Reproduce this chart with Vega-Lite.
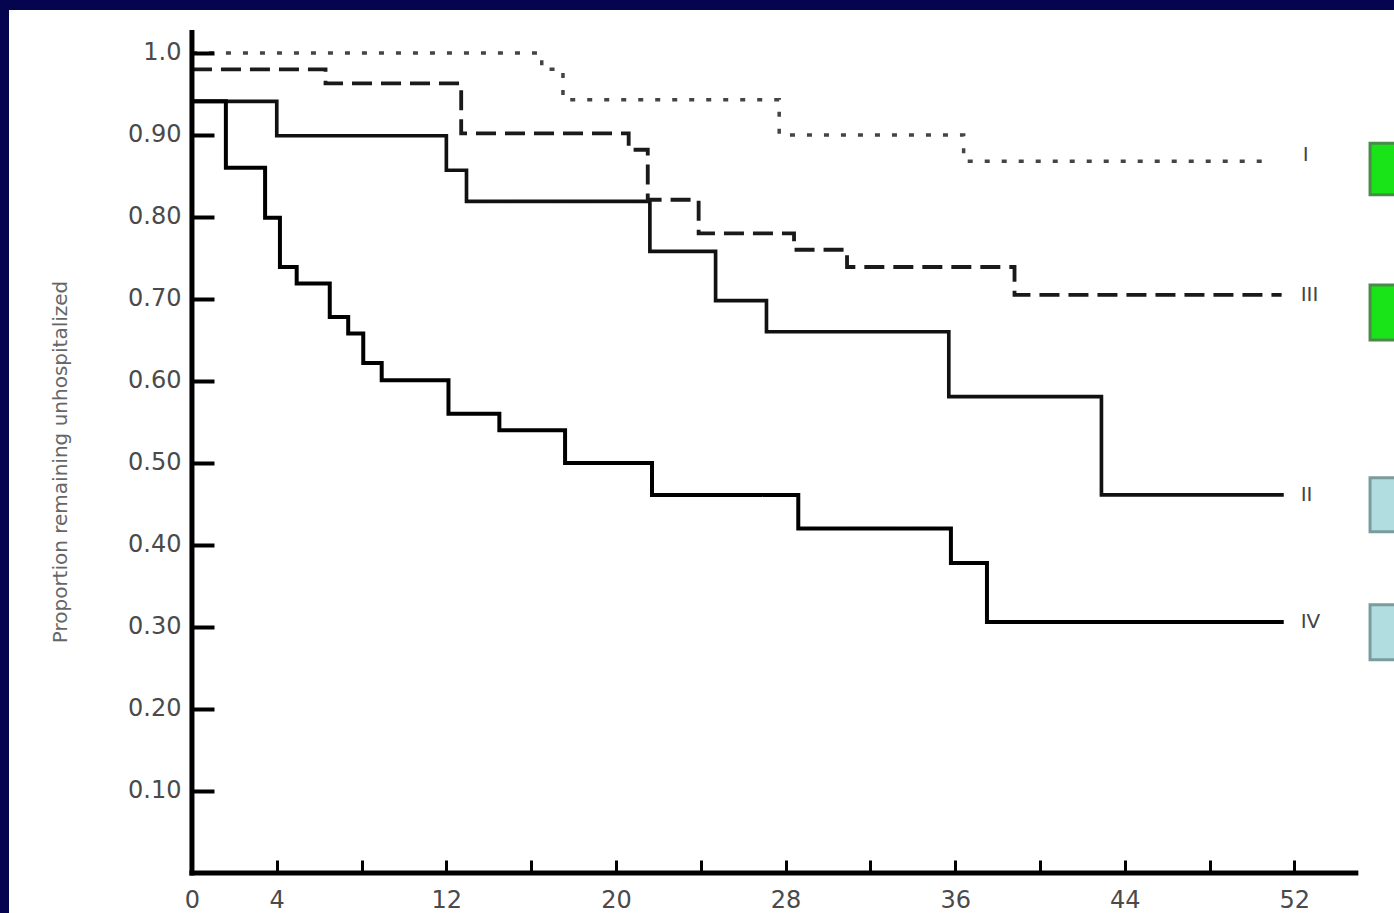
{
  "$schema": "https://vega.github.io/schema/vega-lite/v6.json",
  "width": 1385,
  "height": 903,
  "autosize": {"type": "none"},
  "padding": {"left": 9, "top": 10, "right": 0, "bottom": 0},
  "background": "#05054f",
  "config": {
    "view": {"fill": "white", "stroke": null},
    "font": "DejaVu Sans"
  },
  "datasets": {
    "curves": [
      {"group": "I", "week": 0, "p": 1.0},
      {"group": "I", "week": 16.5, "p": 0.98},
      {"group": "I", "week": 17.5, "p": 0.943},
      {"group": "I", "week": 27.7, "p": 0.9},
      {"group": "I", "week": 36.4, "p": 0.868},
      {"group": "I", "week": 50.9, "p": 0.868},
      {"group": "II", "week": 0, "p": 0.941},
      {"group": "II", "week": 4.0, "p": 0.899},
      {"group": "II", "week": 12.0, "p": 0.857},
      {"group": "II", "week": 12.95, "p": 0.819},
      {"group": "II", "week": 21.6, "p": 0.758},
      {"group": "II", "week": 24.7, "p": 0.698},
      {"group": "II", "week": 27.1, "p": 0.66},
      {"group": "II", "week": 35.7, "p": 0.581},
      {"group": "II", "week": 42.9, "p": 0.461},
      {"group": "II", "week": 51.5, "p": 0.461},
      {"group": "III", "week": 0, "p": 0.98},
      {"group": "III", "week": 6.3, "p": 0.963},
      {"group": "III", "week": 12.7, "p": 0.902},
      {"group": "III", "week": 20.6, "p": 0.882},
      {"group": "III", "week": 21.5, "p": 0.821},
      {"group": "III", "week": 23.9, "p": 0.78},
      {"group": "III", "week": 28.4, "p": 0.76},
      {"group": "III", "week": 30.9, "p": 0.739},
      {"group": "III", "week": 38.8, "p": 0.705},
      {"group": "III", "week": 51.4, "p": 0.705},
      {"group": "IV", "week": 0, "p": 0.941},
      {"group": "IV", "week": 1.6, "p": 0.86},
      {"group": "IV", "week": 3.45, "p": 0.799},
      {"group": "IV", "week": 4.15, "p": 0.739},
      {"group": "IV", "week": 4.94, "p": 0.719},
      {"group": "IV", "week": 6.5, "p": 0.678},
      {"group": "IV", "week": 7.37, "p": 0.658},
      {"group": "IV", "week": 8.08, "p": 0.622},
      {"group": "IV", "week": 8.95, "p": 0.601},
      {"group": "IV", "week": 12.1, "p": 0.56},
      {"group": "IV", "week": 14.5, "p": 0.54},
      {"group": "IV", "week": 17.6, "p": 0.5},
      {"group": "IV", "week": 21.7, "p": 0.461},
      {"group": "IV", "week": 28.6, "p": 0.42},
      {"group": "IV", "week": 35.8, "p": 0.378},
      {"group": "IV", "week": 37.5, "p": 0.306},
      {"group": "IV", "week": 51.5, "p": 0.306}
    ],
    "labels": [
      {"name": "I", "week": 52.4, "p": 0.875},
      {"name": "III", "week": 52.3, "p": 0.705},
      {"name": "II", "week": 52.3, "p": 0.461},
      {"name": "IV", "week": 52.3, "p": 0.306}
    ],
    "axislines": [
      {"week": 0, "week2": 54.9, "p": 0, "p2": 0},
      {"week": 0, "week2": 0, "p": 0, "p2": 1.025}
    ],
    "greenBoxes": [
      {"week": 55.57, "week2": 56.8, "p": 0.89, "p2": 0.827},
      {"week": 55.57, "week2": 56.8, "p": 0.717, "p2": 0.65}
    ],
    "tealBoxes": [
      {"week": 55.57, "week2": 56.8, "p": 0.482, "p2": 0.416},
      {"week": 55.57, "week2": 56.8, "p": 0.327, "p2": 0.26}
    ]
  },
  "layer": [
    {
      "data": {"name": "curves"},
      "mark": {"type": "line", "interpolate": "step-after", "strokeCap": "butt"},
      "encoding": {
        "x": {
          "field": "week", "type": "quantitative",
          "scale": {"domain": [-8.63, 56.7], "nice": false, "zero": false},
          "axis": {
            "values": [0, 4, 8, 12, 16, 20, 24, 28, 32, 36, 40, 44, 48, 52],
            "labelExpr": "indexof([0, 4, 12, 20, 28, 36, 44, 52], datum.value) >= 0 ? datum.label : ''",
            "offset": -40,
            "domain": false,
            "grid": false,
            "tickSize": -13,
            "tickWidth": 3,
            "tickColor": "black",
            "labelFontSize": 24,
            "labelColor": "#4a4a4a",
            "labelPadding": 28,
            "labelFlush": false,
            "labelOverlap": false,
            "title": null,
            "zindex": 1
          }
        },
        "y": {
          "field": "p", "type": "quantitative",
          "scale": {"domain": [-0.0488, 1.0524], "nice": false, "zero": false},
          "axis": {
            "values": [0.1, 0.2, 0.3, 0.4, 0.5, 0.6, 0.7, 0.8, 0.9, 1.0],
            "labelExpr": "datum.value == 1 ? '1.0' : format(datum.value, '.2f')",
            "offset": -183,
            "domain": false,
            "grid": false,
            "tickSize": -22,
            "tickWidth": 4,
            "tickColor": "black",
            "labelFontSize": 24,
            "labelColor": "#4a4a4a",
            "labelPadding": 33,
            "labelOverlap": false,
            "title": "Proportion remaining unhospitalized",
            "titleFont": "DejaVu Sans",
            "titleFontSize": 20,
            "titleFontWeight": "normal",
            "titleColor": "#666",
            "titlePadding": 57,
            "zindex": 1
          }
        },
        "detail": {"field": "group"},
        "stroke": {
          "field": "group", "type": "nominal",
          "scale": {"domain": ["I", "II", "III", "IV"], "range": ["#444444", "#111111", "#1a1a1a", "#000000"]},
          "legend": null
        },
        "strokeDash": {
          "field": "group", "type": "nominal",
          "scale": {"domain": ["I", "II", "III", "IV"], "range": [[5, 12], [1, 0], [20, 9], [1, 0]]},
          "legend": null
        },
        "strokeWidth": {
          "field": "group", "type": "nominal",
          "scale": {"domain": ["I", "II", "III", "IV"], "range": [3.5, 4, 4, 6]},
          "legend": null
        }
      }
    },
    {
      "data": {"name": "axislines"},
      "mark": {"type": "rule", "strokeWidth": 5, "color": "black", "strokeCap": "square"},
      "encoding": {
        "x": {"field": "week", "type": "quantitative"},
        "x2": {"field": "week2"},
        "y": {"field": "p", "type": "quantitative"},
        "y2": {"field": "p2"}
      }
    },
    {
      "data": {"name": "labels"},
      "mark": {"type": "text", "align": "left", "baseline": "middle", "fontSize": 20, "color": "#444"},
      "encoding": {
        "x": {"field": "week", "type": "quantitative"},
        "y": {"field": "p", "type": "quantitative"},
        "text": {"field": "name"}
      }
    },
    {
      "data": {"name": "greenBoxes"},
      "mark": {"type": "rect", "fill": "#18e418", "stroke": "#4a8a4a", "strokeWidth": 3},
      "encoding": {
        "x": {"field": "week", "type": "quantitative"},
        "x2": {"field": "week2"},
        "y": {"field": "p", "type": "quantitative"},
        "y2": {"field": "p2"}
      }
    },
    {
      "data": {"name": "tealBoxes"},
      "mark": {"type": "rect", "fill": "#b2dde0", "stroke": "#7a9c9c", "strokeWidth": 3},
      "encoding": {
        "x": {"field": "week", "type": "quantitative"},
        "x2": {"field": "week2"},
        "y": {"field": "p", "type": "quantitative"},
        "y2": {"field": "p2"}
      }
    }
  ]
}
